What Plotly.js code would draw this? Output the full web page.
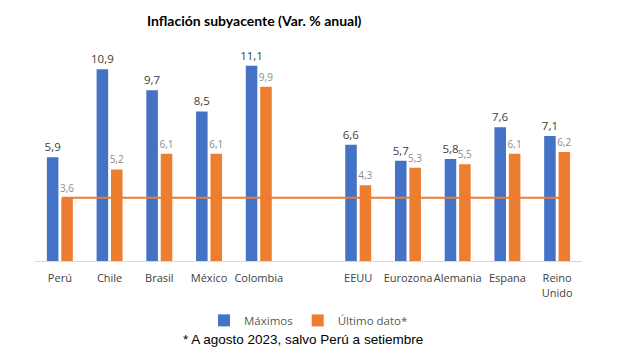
<!DOCTYPE html>
<html><head><meta charset="utf-8">
<script src="https://cdn.plot.ly/plotly-3.0.1.min.js"></script>
<style>html,body{margin:0;padding:0;background:#fff}#chart{width:620px;height:354px}</style>
</head><body><div id="chart"></div>
<script>
const categories = ["Perú","Chile","Brasil","México","Colombia"," ","EEUU","Eurozona","Alemania","Espana","Reino<br>Unido"];
const maximos = [5.9,10.9,9.7,8.5,11.1,null,6.6,5.7,5.8,7.6,7.1];
const ultimo = [3.6,5.2,6.1,6.1,9.9,null,4.3,5.3,5.5,6.1,6.2];
const seriesNames = ["Máximos","Último dato*"];
const footnote = "* A agosto 2023, salvo Perú a setiembre";
const titleText = "Inflación subyacente (Var. % anual)";

const traces = [
  {type:'bar', name:seriesNames[0], x:categories, y:maximos, marker:{color:'#4472C4'},
   texttemplate:'%{y:.1f}', textposition:'outside', cliponaxis:false, constraintext:'none',
   textfont:{family:'Open Sans', size:11.5, color:'#404040'}},
  {type:'bar', name:seriesNames[1], x:categories, y:ultimo, marker:{color:'#ED7D31'},
   texttemplate:'%{y:.1f}', textposition:'outside', cliponaxis:false, constraintext:'none',
   textfont:{family:'Open Sans', size:10, color:'#8c8c8c'}}
];
const layout = {
  width:620, height:354,
  separators:',.',
  margin:{l:35, r:38, t:41, b:93},
  paper_bgcolor:'#fff', plot_bgcolor:'#fff',
  title:{text:'<b>'+titleText+'</b>', x:0.41, xanchor:'center', y:0.94, yanchor:'middle',
         font:{family:'Lato', size:14, color:'#000'}},
  barmode:'group', bargap:0.42, bargroupgap:0.2,
  xaxis:{type:'category', showline:true, linecolor:'#d9d9d9', linewidth:1, ticks:'', tickangle:0,
         ticklabelstandoff:7,
         tickfont:{family:'Open Sans', size:11, color:'#404040'}, fixedrange:true, automargin:false},
  yaxis:{range:[0,12.5], visible:false, showgrid:false, zeroline:false},
  showlegend:true,
  legend:{orientation:'h', x:0.5, xanchor:'center', y:-0.27, yanchor:'middle',
          font:{family:'Open Sans', size:11.5, color:'#595959'}, itemwidth:30, traceorder:'normal'},
  shapes:[{type:'line', xref:'x', yref:'y', x0:0.05, x1:10.1, y0:ultimo[0], y1:ultimo[0],
           line:{color:'#ED7D31', width:2}}],
  annotations:[{text:footnote, xref:'paper', yref:'paper', x:0.49, y:-0.355, xanchor:'center', yanchor:'middle',
                showarrow:false, font:{family:'Liberation Sans', size:13.5, color:'#000'}}]
};
Plotly.newPlot('chart', traces, layout, {displayModeBar:false, staticPlot:true});
</script></body></html>
